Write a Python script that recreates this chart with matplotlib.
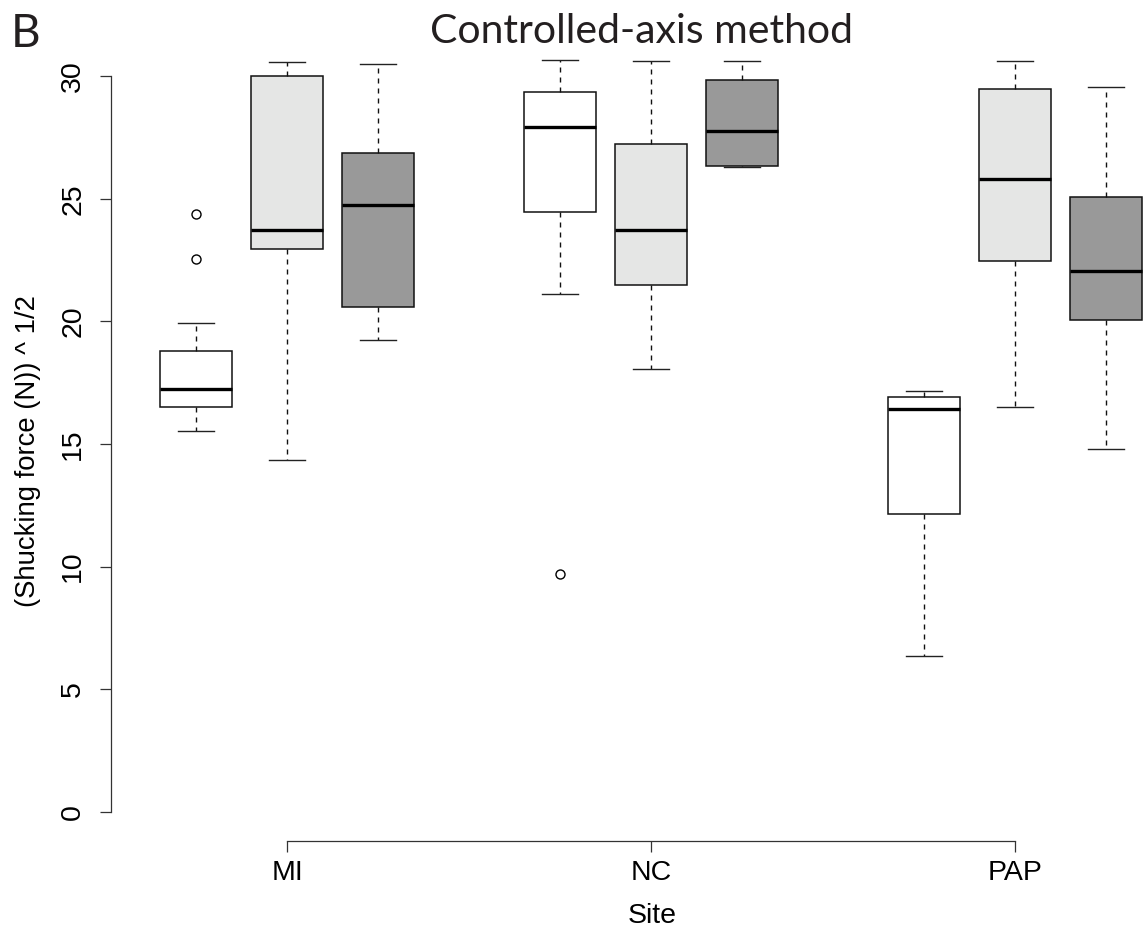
import matplotlib
matplotlib.use("Agg")
import matplotlib.pyplot as plt

# square-root shucking force, three treatments per site
sites = ["MI", "NC", "PAP"]
positions = [1, 2, 3, 5, 6, 7, 9, 10, 11]
medians = [17.23, 23.71, 24.73, 27.94, 23.71, 27.75, 16.44, 25.79, 22.05]
q1 = [16.50, 22.94, 20.58, 24.45, 21.48, 26.33, 12.14, 22.46, 20.04]
q3 = [18.80, 30.00, 26.86, 29.34, 27.24, 29.85, 16.91, 29.46, 25.07]
whislo = [15.53, 14.33, 19.24, 21.11, 18.05, 26.30, 6.35, 16.50, 14.79]
whishi = [19.93, 30.57, 30.51, 30.64, 30.60, 30.60, 17.16, 30.60, 29.57]
fliers = [[24.36, 22.55], [], [], [9.68], [], [], [], [], []]
box_colors = ["white", "#e5e6e5", "#999999"] * 3

stats = []
for i in range(len(medians)):
    stats.append(dict(med=medians[i], q1=q1[i], q3=q3[i],
                      whislo=whislo[i], whishi=whishi[i], fliers=fliers[i]))

W, H = 1146, 934
fig = plt.figure(figsize=(W / 100, H / 100), dpi=100)
ax = fig.add_axes([110.5 / W, 1 - 840.7 / H, 1 - 110.5 / W, (840.7 - 32) / H])

bp = ax.bxp(stats, positions=positions, widths=0.8, patch_artist=True,
            boxprops=dict(edgecolor="#111111", linewidth=1.1),
            medianprops=dict(color="black", linewidth=2.4, solid_capstyle="butt"),
            whiskerprops=dict(color="#111111", linewidth=1.0, linestyle=(0, (3.6, 3.6))),
            capprops=dict(color="#222222", linewidth=1.0),
            capwidths=0.4,
            flierprops=dict(marker="o", markerfacecolor="none", markeredgecolor="black",
                            markersize=6.5, markeredgewidth=1.0))
for patch, c in zip(bp["boxes"], box_colors):
    patch.set_facecolor(c)

ax.set_xlim(0.06, 11.44)
ax.set_ylim(-1.183, 31.80)

# R-style axes: detached lines that span only the ticks
for side in ["top", "right"]:
    ax.spines[side].set_visible(False)
ax.spines["left"].set_bounds(0, 30)
ax.spines["bottom"].set_bounds(2, 10)
for side in ["left", "bottom"]:
    ax.spines[side].set_color("#333333")
    ax.spines[side].set_linewidth(0.9)

ax.set_yticks([0, 5, 10, 15, 20, 25, 30])
ax.set_xticks([2, 6, 10])
ax.set_xticklabels(sites)
ax.tick_params(axis="both", length=8, width=0.9, color="#333333",
               labelsize=20.5)
ax.tick_params(axis="y", pad=9.5)
ax.tick_params(axis="x", pad=6)
for lbl in ax.get_yticklabels():
    lbl.set_fontfamily("Liberation Sans")
    lbl.set_rotation(90)
    lbl.set_verticalalignment("center")
for lbl in ax.get_xticklabels():
    lbl.set_fontfamily("Liberation Sans")

fig.text(28 / W, 1 - 451 / H, "(Shucking force (N)) ^ 1/2", rotation=90,
         ha="center", va="center", fontsize=19.8, family="Liberation Sans")
fig.text(652 / W, 1 - 916 / H, "Site", ha="center", va="center",
         fontsize=20.5, family="Liberation Sans")

fig.text(642 / W, 1 - 42.7 / H, "Controlled-axis method", ha="center",
         va="baseline", fontsize=29.5, family="Lato", color="#231f20")
fig.text(11 / W, 1 - 46.7 / H, "B", ha="left", va="baseline",
         fontsize=33, family="Lato", color="#231f20")

fig.savefig("out.png", dpi=100)
